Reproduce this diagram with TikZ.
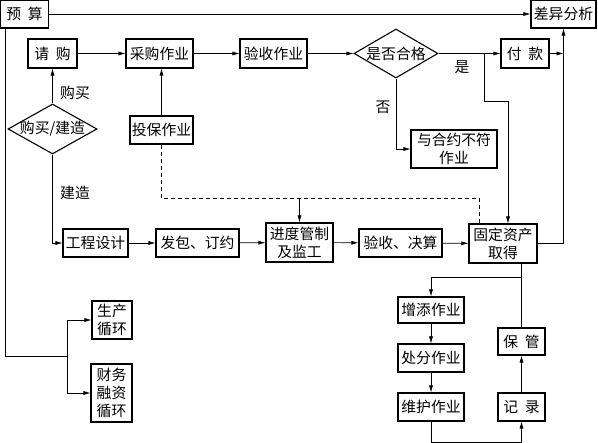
\documentclass[tikz,border=0pt]{standalone}
\usepackage{fontspec}
\newfontfamily\cjk{Noto Sans CJK SC}
\usetikzlibrary{shapes.geometric,arrows.meta}
\newcommand{\gp}{\hspace{0.45em}}
\tikzset{
  every node/.style={font=\cjk\fontsize{14.8}{18}\selectfont},
  bx/.style={draw,line width=1.1pt,inner sep=0pt,align=center},
  dm/.style={draw,line width=1.1pt,diamond,inner sep=-3pt,aspect=1.75},
  ln/.style={line width=0.6pt},
  arr/.style={ln,-{Latex[length=7pt,width=4pt]}},
  dsh/.style={ln,dash pattern=on 4pt off 3pt},
  lbl/.style={inner sep=0pt}
}
\begin{document}
\begin{tikzpicture}[x=1pt,y=-1pt]
\useasboundingbox (0,0) rectangle (598,443);
% nodes
\node[bx,minimum width=48,minimum height=28] (ys) at (24.5,14) {预\gp 算};
\node[bx,minimum width=65,minimum height=28] (cy) at (563.5,14) {差异分析};
\node[bx,minimum width=49,minimum height=29] (qg) at (52.5,53.5) {请\gp 购};
\node[bx,minimum width=67,minimum height=29] (cg) at (159.5,53.5) {采购作业};
\node[bx,minimum width=67,minimum height=29] (ysz) at (273.5,53.5) {验收作业};
\node[dm,minimum width=84,minimum height=49] (hg) at (396,53.5) {是否合格};
\node[bx,minimum width=48,minimum height=29] (fk) at (525,53.5) {付\gp 款};
\node[bx,minimum width=86,minimum height=38] (bf) at (454,149) {与合约不符\\作业};
\node[dm,minimum width=89,minimum height=50] (jz) at (52.5,129) {购买/建造};
\node[bx,minimum width=63,minimum height=28] (tb) at (161.5,130) {投保作业};
\node[bx,minimum width=65,minimum height=28] (gc) at (95.5,243) {工程设计};
\node[bx,minimum width=83,minimum height=28] (fb) at (197.5,243) {发包、订约};
\node[bx,minimum width=67,minimum height=39] (jd) at (299.5,242.5) {进度管制\\及监工};
\node[bx,minimum width=83,minimum height=28] (yj) at (400.5,243) {验收、决算};
\node[bx,minimum width=68,minimum height=39] (gd) at (503,243.5) {固定资产\\取得};
\node[bx,minimum width=66,minimum height=26] (zt) at (431,310) {增添作业};
\node[bx,minimum width=66,minimum height=28] (cf) at (431,358) {处分作业};
\node[bx,minimum width=66,minimum height=28] (wh) at (431,407) {维护作业};
\node[bx,minimum width=47,minimum height=27] (bg) at (521.5,341.5) {保\gp 管};
\node[bx,minimum width=47,minimum height=28] (jl) at (521.5,407) {记\gp 录};
\node[bx,minimum width=40,minimum height=38] (sc) at (112,320) {生产\\循环};
\node[bx,minimum width=41,minimum height=58] (cw) at (111.5,393) {财务\\融资\\循环};
% labels
\node[lbl] (lgm) at (75,93) {购买};
\node[lbl] (ljz) at (75,193) {建造};
\node[lbl] (lsh) at (462,67) {是};
\node[lbl] (lfo) at (383,107) {否};
% coordinates
\coordinate (c0) at (5,356);
\coordinate (j1) at (67,356);
\coordinate (p1) at (484,53.5);
\coordinate (p2) at (484,101);
\coordinate (vr) at (563.5,53.5);
\coordinate (dd) at (479,198);
\coordinate (b1) at (521.5,277);
\coordinate (bt) at (431,442);
% connectors
\draw[arr] (ys.east) -- (cy.west);
\draw[ln] (ys.south west -| c0) -- (c0) -- (j1);
\draw[arr] (j1) |- (sc.west);
\draw[arr] (j1) |- (cw.west);
\draw[arr] (qg) -- (cg);
\draw[arr] (cg) -- (ysz);
\draw[arr] (ysz) -- (hg);
\draw[arr] (hg) -- (fk);
\draw[arr] (fk.east) -- (vr);
\draw[arr] (gd.east) -| (cy.south);
\draw[arr] (p1) -- (p2) -| ([xshift=5pt]gd.north);
\draw[arr] (hg.south) |- (bf.west);
\draw[arr] (jz.north) -- (qg.south);
\draw[arr] (jz.south) |- (gc.west);
\draw[arr] (tb.north) -- (tb.north |- cg.south);
\draw[dsh] (tb.south) |- (dd) -- (dd |- gd.north);
\draw[arr] (jd.north |- dd) -- (jd.north);
\draw[arr] (gc) -- (fb);
\draw[arr] (fb) -- (jd);
\draw[arr] (jd) -- (yj);
\draw[arr] (yj) -- (gd);
\draw[ln] (bg.north |- gd.south) -- (bg.north);
\draw[arr] (b1) -| (zt.north);
\draw[arr] (zt) -- (cf);
\draw[arr] (cf) -- (wh);
\draw[arr] (wh.south) -- (bt) -| (jl.south);
\draw[arr] (jl) -- (bg);
\end{tikzpicture}
\end{document}
